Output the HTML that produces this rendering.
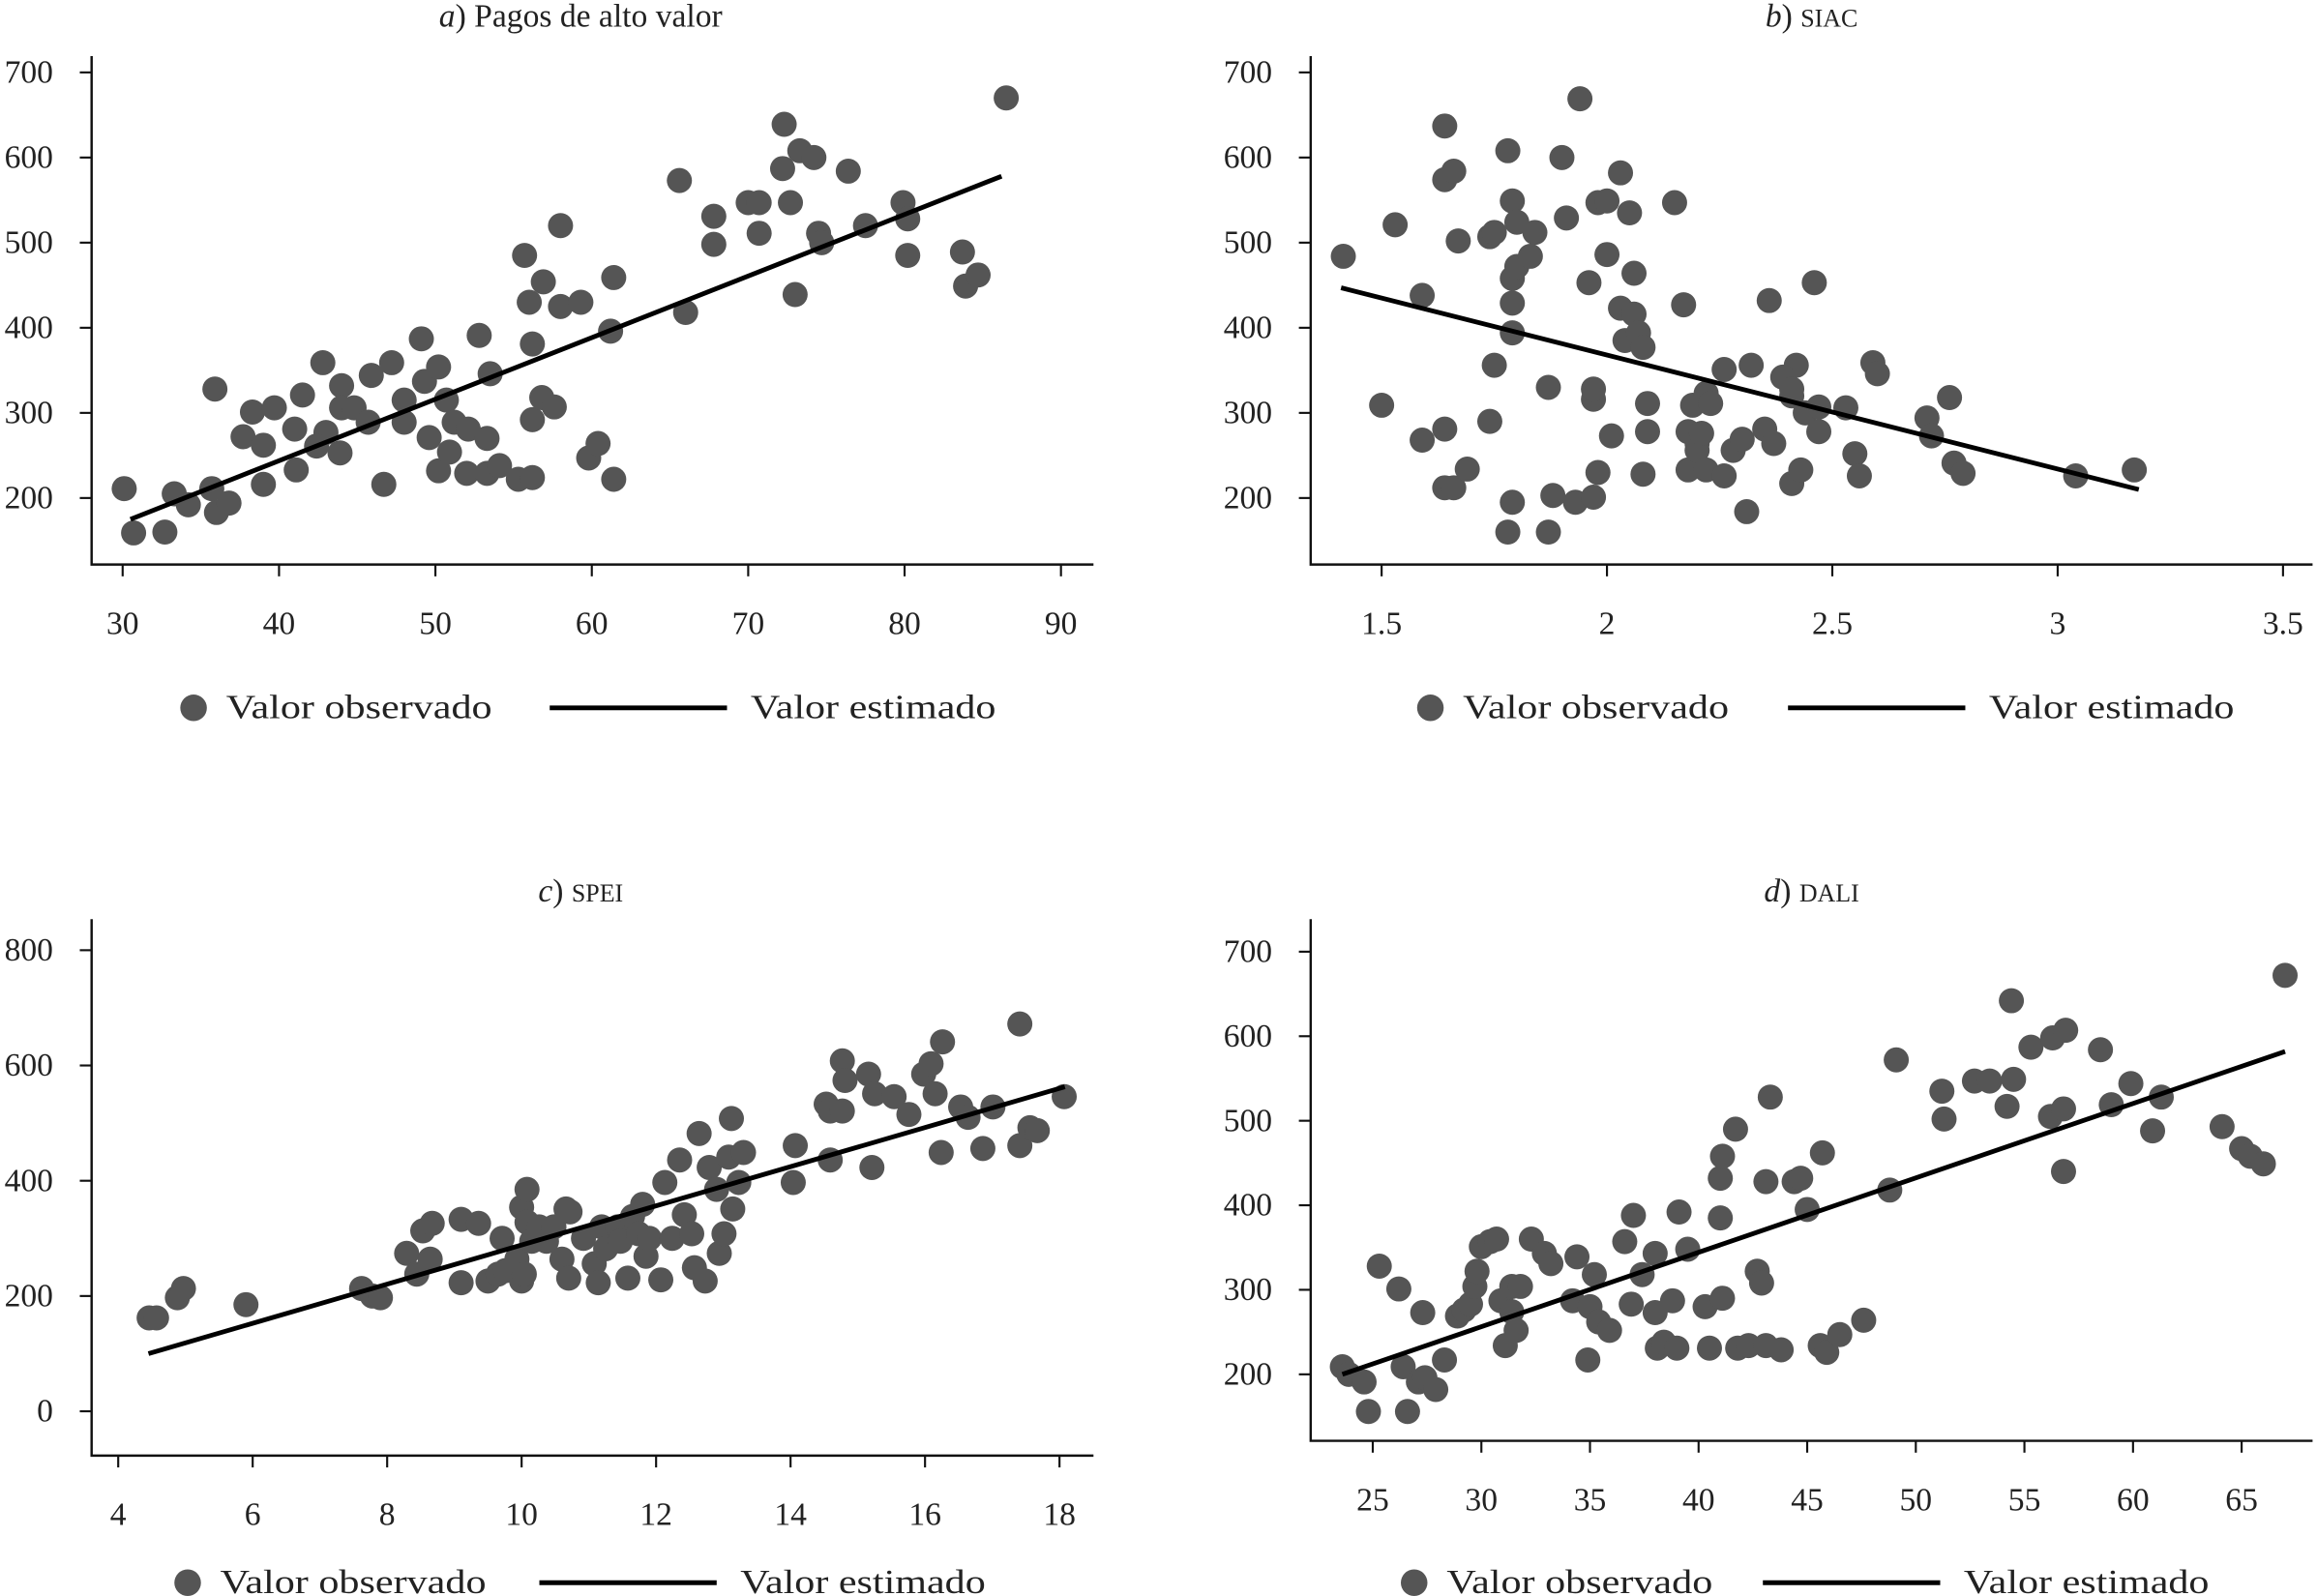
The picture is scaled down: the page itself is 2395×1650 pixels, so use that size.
<!DOCTYPE html>
<html><head><meta charset="utf-8"><style>
html,body{margin:0;padding:0;background:#fff}
svg{display:block}
text{font-family:"Liberation Serif",serif;fill:#222}
</style></head><body>
<svg id="chart" width="2395" height="1650" viewBox="0 0 1568 1080" preserveAspectRatio="none" xmlns="http://www.w3.org/2000/svg"></svg>
<script>
const aX=[30.1,30.7,32.7,33.3,34.2,35.7,36,36.8,35.9,37.7,38.3,39,39.7,39,41,41.1,41.5,42.8,43,42.4,44,43.9,44,44.8,45.7,45.9,46.7,47.2,48,48,49.1,49.3,49.6,50.2,50.7,50.2,50.9,51.2,52.1,52,52.8,53.3,53.5,53.3,54.1,55.3,55.7,56,56.2,56.2,56.2,56.9,56.8,57.6,58,58,59.3,59.8,60.4,61.2,61.4,61.4,65.6,66,67.8,67.8,70,70.7,70.7,72.2,72.3,72.7,73,73.3,74.2,74.5,74.7,76.4,77.5,79.9,80.2,80.2,83.7,83.9,84.7,86.5];
const aY=[211,159,160,205,192,211,183,194,328,272,301,262,306,216,281,233,321,359,277,261,332,253,306,306,289,344,216,359,315,289,387,337,271,354,315,232,254,289,281,229,391,270,346,229,238,222,485,430,381,224,292,454,318,307,520,425,430,247,264,396,459,222,573,418,531,498,547,547,511,587,639,547,439,608,600,511,500,584,520,547,528,485,489,449,462,670];
const aLine=[[30.5,175],[86.2,578]];
const bX=[1.415,1.5,1.53,1.59,1.59,1.64,1.64,1.66,1.64,1.64,1.66,1.67,1.69,1.74,1.75,1.75,1.74,1.78,1.79,1.79,1.79,1.79,1.8,1.8,1.83,1.84,1.78,1.79,1.87,1.88,1.87,1.91,1.9,1.94,1.93,1.96,1.97,1.97,1.97,1.98,2.0,1.98,2.0,2.01,2.03,2.03,2.04,2.05,2.06,2.06,2.07,2.08,2.09,2.09,2.08,2.15,2.17,2.18,2.19,2.18,2.2,2.2,2.21,2.22,2.23,2.26,2.28,2.22,2.26,2.3,2.32,2.35,2.31,2.41,2.42,2.44,2.39,2.41,2.36,2.37,2.41,2.43,2.46,2.47,2.47,2.53,2.55,2.56,2.59,2.6,2.71,2.72,2.76,2.77,2.79,3.04,3.17];
const bY=[484,309,521,438,268,574,637,584,281,212,212,502,234,507,512,356,290,608,549,429,394,458,472,524,484,512,160,195,330,203,160,529,600,669,195,453,201,316,328,547,549,230,486,273,582,423,385,535,416,464,394,377,311,278,228,547,427,278,309,233,264,256,276,323,311,351,256,233,226,269,356,281,184,320,356,300,342,328,432,264,217,233,453,307,278,306,252,226,359,346,294,273,318,241,229,226,233];
const bLine=[[1.41,447],[3.18,210]];
const cX=[4.46,4.57,4.88,4.97,5.9,7.62,7.78,7.9,8.29,8.44,8.53,8.64,8.67,9.1,9.1,9.36,9.5,9.65,9.71,9.76,9.93,10,10,10.04,10.08,10.08,10.15,10.26,10.37,10.48,10.66,10.72,10.6,10.7,10.92,11.08,11.14,11.19,11.25,11.43,11.47,11.65,11.58,11.74,11.8,11.85,11.9,12.07,12.13,12.24,12.35,12.42,12.53,12.57,12.64,12.73,12.79,12.9,12.94,13.01,13.08,13.12,13.14,13.23,13.3,14.04,14.07,14.53,14.59,14.59,14.77,14.81,14.77,15.16,15.25,15.54,15.21,15.76,15.98,16.09,16.15,16.26,16.24,16.53,16.64,16.86,17.01,17.41,17.41,17.56,17.67,18.07];
const cY=[162,162,197,213,185,213,200,197,274,238,313,264,326,333,223,326,226,238,300,244,264,226,354,238,385,328,295,320,295,320,351,346,264,231,300,256,223,320,282,320,295,338,231,308,359,269,300,228,397,300,436,341,308,249,482,226,423,385,274,308,441,508,351,397,449,397,461,533,521,436,608,574,521,585,551,546,423,515,585,603,551,641,449,528,510,456,528,672,461,492,487,546];
const cLine=[[4.45,100],[18.08,563]];
const dX=[23.6,23.9,24.6,24.8,25.3,26.2,26.4,26.6,27.1,27.4,27.3,27.9,28.3,28.9,29.2,29.5,29.7,29.8,30,30.4,30.7,30.9,31.1,31.4,31.4,31.8,31.6,32.3,32.9,33.2,34.2,34.4,34.9,35,35.2,35.4,35.9,36.6,36.9,37,37.4,38,38,38.1,38.4,38.8,39,39.1,39.5,40.3,40.5,41,41.1,41,41.1,41.7,41.8,42.3,42.7,42.9,43.1,43.3,43.1,43.8,44.4,44.7,45,45.6,45.7,45.9,46.5,47.6,48.8,49.1,51.2,51.3,52.7,53.4,54.2,54.4,54.5,55.3,56.2,56.3,56.9,56.8,56.8,58.5,59,59.9,60.9,61.3,64.1,65,65.4,66,67];
const dY=[209,200,191,156,328,301,209,156,191,196,273,182,217,269,276,283,304,322,351,357,360,287,234,274,304,304,252,360,343,331,287,339,217,280,318,262,252,357,283,388,318,273,343,231,238,287,231,392,348,280,231,432,458,385,290,490,231,234,322,308,428,528,234,229,428,432,395,234,462,226,247,264,418,572,535,502,547,547,517,642,549,587,505,598,607,514,440,584,519,544,488,528,493,467,458,449,672];
const dLine=[[23.6,200],[67,582]];

const NS='http://www.w3.org/2000/svg';
const svg=document.getElementById('chart');
function el(tag,attrs,parent){const e=document.createElementNS(NS,tag);for(const k in attrs)e.setAttribute(k,attrs[k]);(parent||svg).appendChild(e);return e;}
function panel(cfg){
  const g=el('g',{});
  
  
  const sx=v=>cfg.x0p+(v-cfg.x0v)*(cfg.x1p-cfg.x0p)/(cfg.x1v-cfg.x0v);
  const sy=v=>cfg.y0p+(v-cfg.y0v)*(cfg.y1p-cfg.y0p)/(cfg.y1v-cfg.y0v);
  const t=el('text',{x:cfg.tc,y:cfg.ty,'text-anchor':'middle','font-size':22},g);
  
  
  t.innerHTML='<tspan font-style="italic">'+cfg.letter+'</tspan>) '+cfg.title;
  const ax=el('path',{d:`M${cfg.ax} ${cfg.top}V${cfg.ay}H${cfg.right}`,stroke:'#111','stroke-width':1.6,fill:'none'},g);
  
  
  cfg.xt.forEach(v=>{
    const p=sx(v);
    el('line',{x1:p,x2:p,y1:cfg.ay,y2:cfg.ay+8,stroke:'#111','stroke-width':1.4},g);
    const tx=el('text',{x:p,y:cfg.ay+47,'text-anchor':'middle','font-size':22},g);
    
    
    tx.textContent=v;
  });
  cfg.yt.forEach(v=>{
    const p=sy(v);
    el('line',{x1:cfg.ax-8,x2:cfg.ax,y1:p,y2:p,stroke:'#111','stroke-width':1.4},g);
    const ty=el('text',{x:cfg.ax-26,y:p+7,'text-anchor':'end','font-size':22},g);
    
    
    ty.textContent=v;
  });
  cfg.xs.forEach((v,i)=>{
    const c=el('circle',{cx:sx(v),cy:sy(cfg.ys[i]),r:8.5,fill:'#555'},g);
    
    
  });
  const ln=el('line',{x1:sx(cfg.line[0][0]),y1:sy(cfg.line[0][1]),x2:sx(cfg.line[1][0]),y2:sy(cfg.line[1][1]),stroke:'#000','stroke-width':3.2},g);
  
  
  const L=cfg.leg;
  const lg=el('g',{},g);
  
  
  el('circle',{cx:L.c,cy:L.y-7,r:9,fill:'#555'},lg);
  const t1=el('text',{x:L.c+22,y:L.y,'font-size':23,textLength:180,lengthAdjust:'spacingAndGlyphs'},lg);t1.textContent='Valor observado';
  el('line',{x1:L.l,x2:L.l+120,y1:L.y-7,y2:L.y-7,stroke:'#000','stroke-width':3.2},lg);
  const t2=el('text',{x:L.l+136,y:L.y,'font-size':23,textLength:166,lengthAdjust:'spacingAndGlyphs'},lg);t2.textContent='Valor estimado';
}
panel({id:'a',letter:'a',title:'Pagos de alto valor',tc:393,ty:18,ax:62,ay:382,top:38,right:740,
  x0v:30,x0p:83,x1v:90,x1p:718,y0v:200,y0p:337,y1v:700,y1p:49,
  xt:[30,40,50,60,70,80,90],yt:[200,300,400,500,600,700],xs:aX,ys:aY,line:aLine,leg:{c:131,l:372,y:486}});
panel({id:'b',letter:'b',title:'<tspan font-size="17">SIAC</tspan>',tc:1226,ty:18,ax:887,ay:382,top:38,right:1565,
  x0v:1.5,x0p:935,x1v:3.5,x1p:1545,y0v:200,y0p:337,y1v:700,y1p:49,
  xt:[1.5,2,2.5,3,3.5],yt:[200,300,400,500,600,700],xs:bX,ys:bY,line:bLine,leg:{c:968,l:1210,y:486}});
panel({id:'c',letter:'c',title:'<tspan font-size="17">SPEI</tspan>',tc:393,ty:610,ax:62,ay:985,top:622,right:740,
  x0v:4,x0p:80,x1v:18,x1p:717,y0v:0,y0p:955,y1v:800,y1p:643,
  xt:[4,6,8,10,12,14,16,18],yt:[0,200,400,600,800],xs:cX,ys:cY,line:cLine,leg:{c:127,l:365,y:1078}});
panel({id:'d',letter:'d',title:'<tspan font-size="17">DALI</tspan>',tc:1226,ty:610,ax:887,ay:975,top:622,right:1565,
  x0v:25,x0p:929,x1v:65,x1p:1517,y0v:200,y0p:930,y1v:700,y1p:644,
  xt:[25,30,35,40,45,50,55,60,65],yt:[200,300,400,500,600,700],xs:dX,ys:dY,line:dLine,leg:{c:957,l:1193,y:1078}});
</script>
</body></html>
